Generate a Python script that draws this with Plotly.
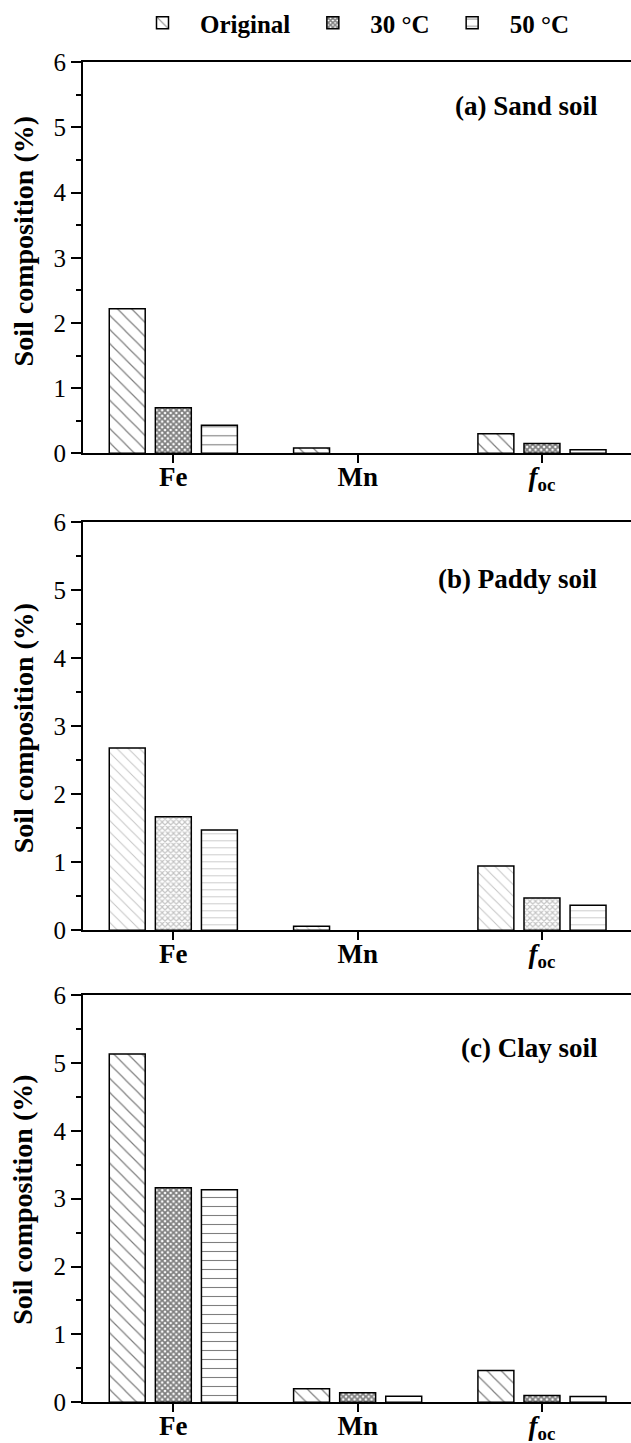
import plotly.graph_objects as go
from plotly.subplots import make_subplots

# ---- data ----
categories = ["Fe", "Mn", "foc"]
tick_labels = ["<b>Fe</b>", "<b>Mn</b>", "<b><i>f</i><sub>oc</sub></b>"]
series_names = ["Original", "30 \u00b0C", "50 \u00b0C"]

sand_original = [2.22, 0.08, 0.30]
sand_30 = [0.70, None, 0.15]
sand_50 = [0.43, None, 0.055]

paddy_original = [2.68, 0.06, 0.945]
paddy_30 = [1.67, None, 0.475]
paddy_50 = [1.475, None, 0.37]

clay_original = [5.13, 0.20, 0.47]
clay_30 = [3.16, 0.14, 0.10]
clay_50 = [3.13, 0.09, 0.085]

panel_labels = ["(a) Sand soil", "(b) Paddy soil", "(c) Clay soil"]
y_title = "Soil composition (%)"
y_ticks = [0, 1, 2, 3, 4, 5, 6]

panels = [
    [sand_original, sand_30, sand_50],
    [paddy_original, paddy_30, paddy_50],
    [clay_original, clay_30, clay_50],
]

W, H = 631, 1443
FONT = "Times New Roman, Liberation Serif, serif"

fig = make_subplots(rows=3, cols=1, shared_xaxes=False, vertical_spacing=0.05)

shapes = ["\\", "x", "-"]
sizes = [10, 4, 9]
sol = [0.12, 0.7, 0.12]
fg_colors = ["#000000", "#888888", "#000000"]

for p, series in enumerate(panels):
    for s, vals in enumerate(series):
        fig.add_trace(
            go.Bar(
                x=categories,
                y=vals,
                name=series_names[s],
                showlegend=(p == 0),
                marker=dict(
                    color="white",
                    line=dict(color="black", width=1.5),
                    pattern=dict(
                        shape=shapes[s],
                        fgcolor=fg_colors[p],
                        bgcolor="white",
                        size=sizes[s] if p != 1 else max(4, sizes[s] - 2),
                        solidity=sol[s] if p != 1 else min(sol[s], 0.5),
                        fillmode="overlay",
                    ),
                ),
            ),
            row=p + 1,
            col=1,
        )

ml = 83
plot_w = W - ml
domains = [
    [(H - 453.3) / H, (H - 62.3) / H],
    [(H - 930.3) / H, (H - 522.3) / H],
    [(H - 1402.3) / H, (H - 995) / H],
]
label_y = [0.888, 0.86, 0.87]
title_y = [0.542, 0.495, 0.497]

for i in range(3):
    fig.update_xaxes(
        domain=[0, 1],
        range=[-0.49, 2.483],
        showline=True,
        linecolor="black",
        linewidth=2,
        mirror=True,
        ticks="outside",
        ticklen=8,
        tickwidth=1.5,
        tickcolor="black",
        tickvals=categories,
        ticktext=tick_labels,
        tickfont=dict(family=FONT, size=27, color="black"),
        ticklabelstandoff=-10,
        showgrid=False,
        zeroline=False,
        row=i + 1,
        col=1,
    )
    fig.update_yaxes(
        domain=domains[i],
        range=[0, 6],
        showline=True,
        linecolor="black",
        linewidth=2,
        ticks="outside",
        ticklen=10,
        tickwidth=1.5,
        tickcolor="black",
        tickvals=y_ticks,
        tickfont=dict(family=FONT, size=25, color="black"),
        minor=dict(dtick=0.5, ticks="outside", ticklen=5, tickwidth=1.5, tickcolor="black"),
        showgrid=False,
        zeroline=False,
        row=i + 1,
        col=1,
    )
    xref = "x domain" if i == 0 else f"x{i+1} domain"
    yref = "y domain" if i == 0 else f"y{i+1} domain"
    fig.add_annotation(
        text="<b>" + panel_labels[i] + "</b>",
        xref=xref,
        yref=yref,
        x=0.943,
        y=label_y[i],
        xanchor="right",
        yanchor="middle",
        showarrow=False,
        font=dict(family=FONT, size=27, color="black"),
    )
    fig.add_annotation(
        text="<b>" + y_title + "</b>",
        xref=xref,
        yref=yref,
        x=(23 - ml) / plot_w,
        y=title_y[i],
        xanchor="center",
        yanchor="middle",
        textangle=-90,
        showarrow=False,
        font=dict(family=FONT, size=28, color="black"),
    )

fig.update_layout(
    template="none",
    width=W,
    height=H,
    margin=dict(l=ml, r=0, t=0, b=0, autoexpand=False),
    font=dict(family=FONT, color="black"),
    paper_bgcolor="white",
    plot_bgcolor="white",
    barmode="group",
    bargap=0.25,
    bargroupgap=0.22,
    legend=dict(
        orientation="h",
        x=(125 - ml) / plot_w,
        y=1.0,
        xanchor="left",
        yanchor="top",
        font=dict(family=FONT, size=25, color="black", weight="bold"),
        itemwidth=65,
        bgcolor="rgba(0,0,0,0)",
        tracegroupgap=0,
    ),
)

fig.write_html("out.html")
